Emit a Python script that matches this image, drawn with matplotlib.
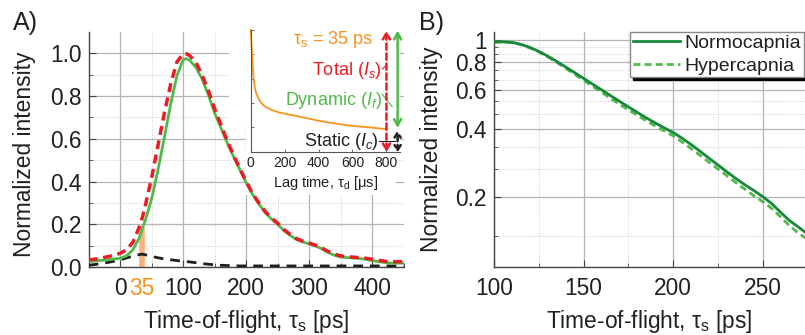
import matplotlib
matplotlib.use("Agg")
import matplotlib.pyplot as plt
from matplotlib.patches import Rectangle
from matplotlib.ticker import FixedLocator, FixedFormatter, NullFormatter

plt.rcParams['font.family'] = ['Liberation Sans', 'DejaVu Sans']
plt.rcParams['mathtext.fontset'] = 'custom'
plt.rcParams['mathtext.rm'] = 'Liberation Sans'
plt.rcParams['mathtext.it'] = 'Liberation Sans:italic'

# --- panel A: time-of-flight curves ---
tof = [-50, -40, -30, -20, -10, 0, 10, 20, 30, 35, 40, 50, 60, 70, 80, 90, 100, 105,
       110, 120, 130, 140, 150, 160, 170, 180, 190, 200, 210, 220, 230, 240, 250, 260,
       270, 280, 290, 300, 310, 320, 330, 340, 350, 360, 370, 380, 390, 400, 410, 420,
       430, 440, 450]
total = [0.033, 0.037, 0.042, 0.048, 0.055, 0.064, 0.08, 0.115, 0.185, 0.23, 0.29, 0.42,
         0.57, 0.72, 0.855, 0.96, 0.998, 0.998, 0.99, 0.96, 0.897, 0.825, 0.74, 0.665,
         0.59, 0.522, 0.46, 0.4, 0.345, 0.3, 0.26, 0.23, 0.205, 0.175, 0.152, 0.132,
         0.121, 0.112, 0.102, 0.089, 0.073, 0.06, 0.052, 0.048, 0.046, 0.044, 0.041,
         0.036, 0.031, 0.027, 0.025, 0.025, 0.025]
dynamic = [0.025, 0.028, 0.031, 0.034, 0.037, 0.041, 0.052, 0.08, 0.135, 0.18, 0.22, 0.32,
           0.455, 0.605, 0.76, 0.895, 0.97, 0.975, 0.968, 0.935, 0.88, 0.805, 0.72, 0.65,
           0.58, 0.515, 0.455, 0.395, 0.34, 0.295, 0.255, 0.225, 0.2, 0.17, 0.148, 0.128,
           0.117, 0.108, 0.098, 0.085, 0.068, 0.055, 0.047, 0.044, 0.042, 0.04, 0.036,
           0.03, 0.025, 0.021, 0.018, 0.018, 0.018]
static = [0.008, 0.012, 0.016, 0.021, 0.027, 0.034, 0.042, 0.051, 0.058, 0.06, 0.057, 0.05,
          0.043, 0.038, 0.034, 0.03, 0.027, 0.025, 0.024, 0.02, 0.016, 0.013, 0.01, 0.008,
          0.007, 0.006, 0.005, 0.005, 0.005, 0.005, 0.005, 0.005, 0.005, 0.005, 0.005,
          0.005, 0.005, 0.005, 0.005, 0.005, 0.005, 0.005, 0.005, 0.005, 0.005, 0.005,
          0.005, 0.005, 0.005, 0.005, 0.005, 0.005, 0.005]
gate_tof = 35
gate_level = 0.185

# inset: correlation decay at tau_s = 35 ps
lag = [0, 3, 6, 10, 15, 20, 25, 35, 45, 60, 85, 120, 163, 210, 262, 310, 361, 410,
       459, 510, 558, 610, 657, 710, 755, 795]
g1 = [1.0, 0.93, 0.85, 0.75, 0.64, 0.57, 0.52, 0.47, 0.44, 0.405, 0.37, 0.345, 0.324,
      0.309, 0.296, 0.281, 0.266, 0.252, 0.24, 0.229, 0.219, 0.211, 0.205, 0.198, 0.192,
      0.185]

# --- panel B: log decay ---
tof_b = [100, 105, 110, 115, 120, 125, 130, 135, 140, 145, 150, 155, 160, 165, 170, 175,
         180, 185, 190, 195, 200, 205, 210, 215, 220, 225, 230, 235, 240, 245, 250, 255,
         260, 265, 270, 275]
normo = [0.983, 0.985, 0.98, 0.96, 0.93, 0.893, 0.85, 0.805, 0.76, 0.717, 0.676, 0.637,
         0.601, 0.566, 0.534, 0.504, 0.476, 0.45, 0.427, 0.406, 0.387, 0.365, 0.342, 0.319,
         0.297, 0.277, 0.258, 0.241, 0.226, 0.213, 0.2, 0.186, 0.17, 0.156, 0.146, 0.136]
hyper = [0.983, 0.985, 0.978, 0.957, 0.925, 0.887, 0.843, 0.797, 0.75, 0.705, 0.663,
         0.623, 0.586, 0.55, 0.518, 0.489, 0.462, 0.437, 0.414, 0.393, 0.374, 0.351, 0.328,
         0.306, 0.285, 0.266, 0.248, 0.231, 0.216, 0.202, 0.19, 0.177, 0.162, 0.148, 0.137,
         0.129]

RED = '#ed1c24'
GREEN = '#4fba48'
DKGREEN = '#17893a'
ORANGE = '#f7941d'
INK = '#231f20'
GRID = '#b4b4b4'
FS = 16.4

fig = plt.figure(figsize=(8.05, 3.35), dpi=100)


def style_axes(ax):
    for s in ['top', 'right']:
        ax.spines[s].set_visible(False)
    for s in ['left', 'bottom']:
        ax.spines[s].set_color('#444444')
        ax.spines[s].set_linewidth(1.0)
    ax.tick_params(which='both', direction='in', colors='#444444', labelcolor=INK,
                   labelsize=FS)
    ax.tick_params(which='major', length=5)
    ax.tick_params(which='minor', length=3)
    ax.set_axisbelow(True)
    ax.grid(True, which='major', color=GRID, lw=0.9)
    ax.grid(True, which='minor', color='#cccccc', lw=0.7, ls=':')


# ---------------- A ----------------
axA = fig.add_axes([0.1102, 0.203, 0.3913, 0.7015])
style_axes(axA)
axA.set_xlim(-50, 450)
axA.set_ylim(0, 1.1)
axA.set_xticks([0, gate_tof, 100, 200, 300, 400])
axA.set_xticklabels(['0', '35', '100', '200', '300', '400'])
axA.xaxis.set_minor_locator(FixedLocator([-50, 50, 150, 250, 350, 450]))
axA.set_yticks([0, 0.2, 0.4, 0.6, 0.8, 1.0])
axA.set_yticklabels(['0.0', '0.2', '0.4', '0.6', '0.8', '1.0'])
axA.yaxis.set_minor_locator(FixedLocator([0.1, 0.3, 0.5, 0.7, 0.9]))
axA.tick_params(axis='x', which='major', pad=7)
axA.tick_params(axis='y', which='major', pad=5)
ticks = axA.xaxis.get_major_ticks()
ticks[1].gridline.set_visible(False)
ticks[1].tick1line.set_visible(False)
ticks[1].label1.set_color(ORANGE)

# white backing behind the inset
axA.add_patch(Rectangle((0.445, 0.60), 0.53, 0.42, transform=axA.transAxes,
                        facecolor='white', edgecolor='none', zorder=1, clip_on=False))
axA.add_patch(Rectangle((0.50, 0.305), 0.475, 0.30, transform=axA.transAxes,
                        facecolor='white', edgecolor='none', zorder=1, clip_on=False))

axA.plot([gate_tof, gate_tof], [0, gate_level], color='#fbb07a', lw=4, zorder=2,
         solid_capstyle='butt')
axA.plot(tof, static, color=INK, lw=2, ls=(0, (3.5, 2.5)), zorder=3)
axA.plot(tof, dynamic, color=GREEN, lw=2, zorder=4)
axA.plot(tof, total, color=RED, lw=2.5, ls=(0, (2.6, 1.6)), zorder=5)

axA.set_ylabel('Normalized intensity', fontsize=FS, color=INK)
axA.yaxis.set_label_coords(-0.166, 0.48)
axA.set_xlabel(r'Time-of-flight, $\mathrm{\tau_s}$ [ps]', fontsize=FS, color=INK,
               labelpad=6)
fig.text(13 / 805, 1 - 30 / 335, 'A)', fontsize=18, color=INK)

# inset
axI = fig.add_axes([0.3114, 0.5472, 0.1855, 0.3633])
axI.set_facecolor('white')
for s in ['top', 'right']:
    axI.spines[s].set_visible(False)
for s in ['left', 'bottom']:
    axI.spines[s].set_color('#555555')
    axI.spines[s].set_linewidth(0.8)
axI.set_xlim(0, 880)
axI.set_ylim(0, 1)
axI.set_xticks([0, 200, 400, 600, 800])
axI.set_yticks([0, 0.2, 0.4, 0.6, 0.8, 1.0])
axI.yaxis.set_major_formatter(NullFormatter())
axI.tick_params(direction='in', length=2.5, width=0.6, colors='#555555',
                labelcolor=INK, labelsize=10, pad=3)
axI.plot(lag, g1, color=ORANGE, lw=1.3, clip_on=False)
axI.set_xlabel(r'Lag time, $\mathrm{\tau_d}$ [$\mathrm{\mu}$s]', fontsize=10.5,
               color=INK, labelpad=3)

arr = dict(annotation_clip=False, xycoords='data', textcoords='data')
axI.annotate('', xy=(800, 0.995), xytext=(800, -0.005),
             arrowprops=dict(arrowstyle='<->,head_length=0.45,head_width=0.25',
                             color=RED, lw=1.8, ls=(0, (2.5, 1.5)),
                             shrinkA=0, shrinkB=0), **arr)
axI.annotate('', xy=(866, 0.995), xytext=(866, 0.195),
             arrowprops=dict(arrowstyle='<->,head_length=0.45,head_width=0.25',
                             color=GREEN, lw=1.8, shrinkA=0, shrinkB=0), **arr)
axI.annotate('', xy=(866, 0.175), xytext=(866, -0.005),
             arrowprops=dict(arrowstyle='<->,head_length=0.35,head_width=0.22',
                             color=INK, lw=1.8, ls=(0, (2, 1.5)),
                             shrinkA=0, shrinkB=0), **arr)

axI.text(718, 0.92, r'$\mathrm{\tau_s}$ = 35 ps', color=ORANGE, fontsize=13,
         ha='right', va='center')
axI.text(772, 0.67, r'Total ($I_s$)', color=RED, fontsize=13, ha='right', va='center')
axI.plot([776, 800], [0.68, 0.71], color=RED, lw=0.8, clip_on=False)
axI.text(772, 0.42, r'Dynamic ($I_f$)', color=GREEN, fontsize=13, ha='right',
         va='center')
axI.plot([776, 834], [0.47, 0.37], color=GREEN, lw=0.8, clip_on=False)
axI.text(752, 0.085, r'Static ($I_c$)', color=INK, fontsize=13, ha='right', va='center')
axI.plot([756, 850], [0.085, 0.085], color=INK, lw=0.8, clip_on=False)

# ---------------- B ----------------
axB = fig.add_axes([0.6137, 0.203, 0.3863, 0.7015])
axB.set_yscale('log')
style_axes(axB)
axB.set_xlim(100, 273.5)
axB.set_ylim(0.097, 1.09)
axB.set_xticks([100, 150, 200, 250])
axB.xaxis.set_minor_locator(FixedLocator([125, 175, 225]))
axB.yaxis.set_major_locator(FixedLocator([0.2, 0.4, 0.6, 0.8, 1.0]))
axB.yaxis.set_major_formatter(FixedFormatter(['0.2', '0.4', '0.6', '0.8', '1']))
axB.yaxis.set_minor_locator(FixedLocator([0.1333, 0.2667, 0.3333, 0.4667, 0.5333,
                                          0.6667, 0.7333, 0.8667, 0.9333]))
axB.yaxis.set_minor_formatter(NullFormatter())
axB.tick_params(axis='x', which='major', pad=7)
axB.tick_params(axis='y', which='major', pad=5)

axB.plot(tof_b, normo, color=DKGREEN, lw=2, label='Normocapnia', zorder=4)
axB.plot(tof_b, hyper, color=GREEN, lw=2, ls=(0, (2.5, 1.5)), label='Hypercapnia',
         zorder=3)

leg = axB.legend(loc='upper left', bbox_to_anchor=(0.437, 1.002), borderaxespad=0,
                 fontsize=14, handlelength=2.4, handletextpad=0.25, borderpad=0.15,
                 labelspacing=0.25, fancybox=False, framealpha=1,
                 shadow={'color': 'black', 'alpha': 1})
leg.get_frame().set_edgecolor('#888888')
leg.get_frame().set_linewidth(1.0)
for t in leg.get_texts():
    t.set_color(INK)

axB.set_ylabel('Normalized intensity', fontsize=FS, color=INK)
axB.yaxis.set_label_coords(-0.164, 0.5)
axB.set_xlabel(r'Time-of-flight, $\mathrm{\tau_s}$ [ps]', fontsize=FS, color=INK,
               labelpad=6)
fig.text(419 / 805, 1 - 30 / 335, 'B)', fontsize=18, color=INK)

fig.savefig('out.png', dpi=100)
